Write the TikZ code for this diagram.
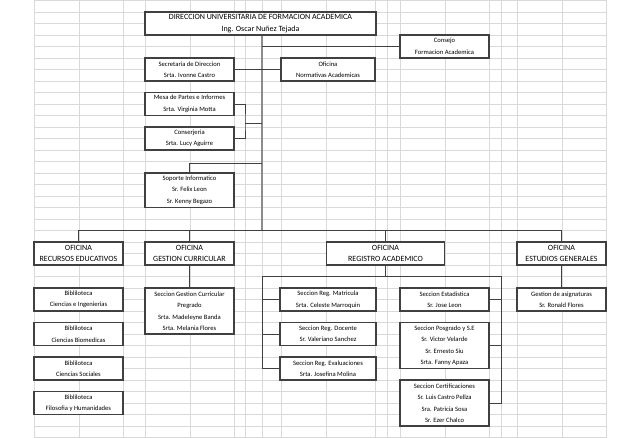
\documentclass[tikz,border=0pt]{standalone}
\usepackage{fontspec}
\setmainfont{Carlito}
\begin{document}
\begin{tikzpicture}[x=1pt,y=-1pt,
  gridline/.style={draw=black!15, line width=0.8pt},
  box/.style={draw=black!75, fill=white, line width=1.2pt, align=center, inner sep=0pt,
    font=\fontsize{6.6}{11.5}\selectfont},
  bigbox/.style={box, font=\fontsize{8}{11.5}\selectfont},
  link/.style={draw=black!75, line width=0.9pt},
  mainlink/.style={draw=black!45, line width=1.6pt}]
\useasboundingbox (0,0) rectangle (641,438);
\fill[white] (0,0) rectangle (641,438);
% spreadsheet grid
\foreach \k in {0,...,38} \draw[gridline] (34,0.5+11.5*\k) -- (606,0.5+11.5*\k);
\foreach \gx in {34,79,123,145,190,234,245,262,281,326,375,387,400,445,489,501,517,562,606}
  \draw[gridline] (\gx,0.5) -- (\gx,438);
% junction coordinates
\coordinate (busM) at (262,230.5);
\coordinate (brk) at (245,123);
\coordinate (sopJ) at (262,163);
\coordinate (regL) at (262,276.5);
\coordinate (regR) at (501,276.5);
% top part
\node[bigbox, minimum width=231pt, minimum height=23pt] (top) at (260.5,23.5)
  {DIRECCION UNIVERSITARIA DE FORMACION ACADEMICA\\Ing. Oscar Nuñez Tejada};
\node[box, minimum width=89pt, minimum height=23pt] (consejo) at (444.5,46.5) {Consejo\\Formacion Academica};
\node[box, minimum width=89pt, minimum height=23pt] (secre) at (189.5,69.5) {Secretaria de Direccion\\Srta. Ivonne Castro};
\node[box, minimum width=94pt, minimum height=23pt] (oficina) at (328,69.5) {Oficina\\Normativas Academicas};
\node[box, minimum width=89pt, minimum height=23pt] (mesa) at (189.5,104) {Mesa de Partes e Informes\\Srta. Virginia Motta};
\node[box, minimum width=89pt, minimum height=23pt] (conser) at (189.5,138.5) {Conserjeria\\Srta. Lucy Aguirre};
\node[box, minimum width=89pt, minimum height=34.5pt] (soporte) at (189.5,190.25) {Soporte Informatico\\Sr. Felix Leon\\Sr. Kenny Begazo};
% offices
\node[bigbox, minimum width=89pt, minimum height=23pt] (ofRec) at (78.5,253.5) {OFICINA\\RECURSOS EDUCATIVOS};
\node[bigbox, minimum width=89pt, minimum height=23pt] (ofGes) at (189.5,253.5) {OFICINA\\GESTION CURRICULAR};
\node[bigbox, minimum width=118.5pt, minimum height=23pt] (ofReg) at (385.5,253.5) {OFICINA\\REGISTRO ACADEMICO};
\node[bigbox, minimum width=89pt, minimum height=23pt] (ofEst) at (561.5,253.5) {OFICINA\\ESTUDIOS GENERALES};
% bibliotecas
\node[box, minimum width=89pt, minimum height=23pt] (bib1) at (78.5,299.5) {Bibliloteca\\Ciencias e Ingenierias};
\node[box, minimum width=89pt, minimum height=23pt] (bib2) at (78.5,334) {Bibliloteca\\Ciencias Biomedicas};
\node[box, minimum width=89pt, minimum height=23pt] (bib3) at (78.5,368.5) {Bibliloteca\\Ciencias Sociales};
\node[box, minimum width=89pt, minimum height=23pt] (bib4) at (78.5,403) {Bibliloteca\\Filosofia y Humanidades};
% gestion curricular
\node[box, minimum width=89pt, minimum height=46pt] (gesSec) at (189.5,311)
  {Seccion Gestion Curricular\\Pregrado\\Srta. Madeleyne Banda\\Srta. Melania Flores};
% registro
\node[box, minimum width=96pt, minimum height=23pt] (mat) at (328,299.5) {Seccion Reg. Matricula\\Srta. Celeste Marroquin};
\node[box, minimum width=96pt, minimum height=23pt] (doc) at (328,334) {Seccion Reg. Docente\\Sr. Valeriano Sanchez};
\node[box, minimum width=96pt, minimum height=23pt] (eva) at (328,368.5) {Seccion Reg. Evaluaciones\\Srta. Josefina Molina};
\node[box, minimum width=89pt, minimum height=23pt] (est) at (444.5,299.5) {Seccion Estadistica\\Sr. Jose Leon};
\node[box, minimum width=89pt, minimum height=46pt] (pos) at (444.5,345.5)
  {Seccion Posgrado y S.E\\Sr. Victor Velarde\\Sr. Ernesto Siu\\Srta. Fanny Apaza};
\node[box, minimum width=89pt, minimum height=46pt] (cert) at (444.5,403)
  {Seccion Certificaciones\\Sr. Luis Castro Pellza\\Sra. Patricia Sosa\\Sr. Ezer Chalco};
% estudios generales
\node[box, minimum width=89pt, minimum height=23pt] (asig) at (561.5,299.5) {Gestion de asignaturas\\Sr. Ronald Flores};
% connectors
\draw[mainlink] (top.south -| busM) -- (busM);
\draw[link] (consejo.west) -- (consejo.west -| busM);
\draw[link] (secre.east) -- (oficina.west);
\draw[link] (mesa.east) -| (brk) |- (conser.east);
\draw[link] (brk) -- (brk -| busM);
\draw[link] (soporte.north) |- (sopJ);
\draw[link] (ofRec.north) |- (busM) -| (ofEst.north);
\draw[link] (ofGes.north) -- (ofGes.north |- busM);
\draw[link] (ofReg.north) -- (ofReg.north |- busM);
\draw[link] (ofGes.south) -- (gesSec.north);
\draw[link] (ofEst.south) -- (asig.north);
\draw[link] (ofReg.south) -- (ofReg.south |- regL);
\draw[link] (regL) -- (regR);
\draw[link] (regL) |- (eva.west);
\draw[link] (regL |- mat.west) -- (mat.west);
\draw[link] (regL |- doc.west) -- (doc.west);
\draw[link] (regR) |- (cert.east);
\draw[link] (est.east) -- (est.east -| regR);
\draw[link] (pos.east) -- (pos.east -| regR);
\end{tikzpicture}
\end{document}
